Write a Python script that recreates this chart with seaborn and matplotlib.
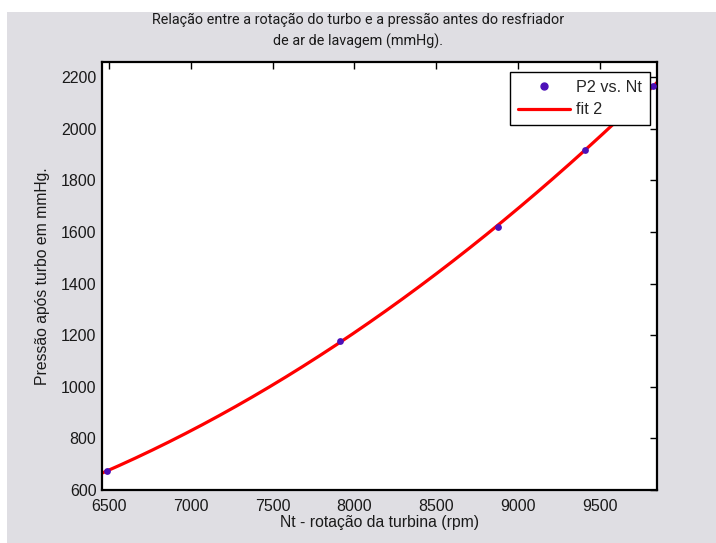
import numpy as np
import pandas as pd
import matplotlib
matplotlib.use("Agg")
import matplotlib.pyplot as plt
from matplotlib.patches import Rectangle
from matplotlib.lines import Line2D
import seaborn as sns

# Measured turbine speed (rpm) and pressure after turbo (mmHg)
nt_rpm = [6490, 7912, 8875, 9408, 9824]
p2_mmhg = [673, 1178, 1618, 1918, 2166]

x_ticks = [6500, 7000, 7500, 8000, 8500, 9000, 9500]
y_ticks = [600, 800, 1000, 1200, 1400, 1600, 1800, 2000, 2200]

title_text = ("Relação entre a rotação do turbo e a pressão antes do resfriador\n"
              "de ar de lavagem (mmHg).")
xlabel_text = "Nt - rotação da turbina (rpm)"
ylabel_text = "Pressão após turbo em mmHg."

sns.set_theme(style="white")
plt.rcParams["font.family"] = ["Liberation Sans", "DejaVu Sans"]

pts = pd.DataFrame({"Nt": nt_rpm, "P2": p2_mmhg})

# quadratic fit ("fit 2") evaluated across the axis range
xlim = (6458, 9849)
ylim = (600, 2259)
coef = np.polyfit(pts["Nt"], pts["P2"], 2)
xs = np.linspace(xlim[0], xlim[1], 300)
fit = pd.DataFrame({"Nt": xs, "P2": np.polyval(coef, xs)})

W, H = 716, 543
fig = plt.figure(figsize=(W / 100, H / 100), dpi=100, facecolor="white")
# grey figure panel behind the axes
fig.add_artist(Rectangle((7 / W, 0), 1 - 7 / W, 1 - 12 / H,
                         transform=fig.transFigure, facecolor="#dfdee3",
                         edgecolor="none", zorder=-10))

ax_left, ax_w = 102, 555
ax = fig.add_axes([ax_left / W, 1 - 490 / H, ax_w / W, 428 / H])
ax.set_zorder(1)
ax.set_facecolor("white")

red = "#ff0000"
dot = "#4c10b8"
sns.lineplot(data=fit, x="Nt", y="P2", ax=ax, color=red, linewidth=2.3,
             zorder=2, legend=False)
sns.scatterplot(data=pts, x="Nt", y="P2", ax=ax, color=dot, s=24,
                edgecolor=dot, linewidth=0, zorder=3, legend=False)

ax.set_xlim(*xlim)
ax.set_ylim(*ylim)
ax.set_xticks(x_ticks)
ax.set_yticks(y_ticks)
ax.tick_params(direction="in", length=5, width=1, colors="black",
               labelsize=11.5, top=True, right=True,
               labelcolor="#1a1a1a")
ax.tick_params(axis="x", pad=6.5)
ax.tick_params(axis="y", pad=4)
for s in ax.spines.values():
    s.set_color("black")
    s.set_linewidth(1.6)

ax.set_xlabel(xlabel_text, fontsize=11.3, color="#1a1a1a", labelpad=1)
ax.set_ylabel(ylabel_text, fontsize=11.3, color="#1a1a1a", labelpad=8)
# title centred on the figure rather than on the axes
ax.set_title(title_text, fontsize=10.4, family=["Roboto", "Liberation Sans"],
             color="#1a1a1a", pad=12, linespacing=1.5,
             x=(W / 2 - ax_left) / ax_w)

handles = [
    Line2D([], [], linestyle="none", marker="o", markersize=5,
           markerfacecolor=dot, markeredgecolor=dot),
    Line2D([], [], color=red, linewidth=2.3),
]
leg = ax.legend(handles, ["P2 vs. Nt", "fit 2"], loc="upper right",
                bbox_to_anchor=(1.0 - 7 / 555, 1.0 - 10 / 428),
                fontsize=11.6, frameon=True, fancybox=False,
                borderaxespad=0, handlelength=3.25, handletextpad=0.35,
                borderpad=0.5, labelspacing=0.45)
leg.get_frame().set_edgecolor("black")
leg.get_frame().set_linewidth(1.0)
leg.get_frame().set_facecolor("white")
leg.get_frame().set_alpha(1)

fig.savefig("out.png", dpi=100, facecolor=fig.get_facecolor())
